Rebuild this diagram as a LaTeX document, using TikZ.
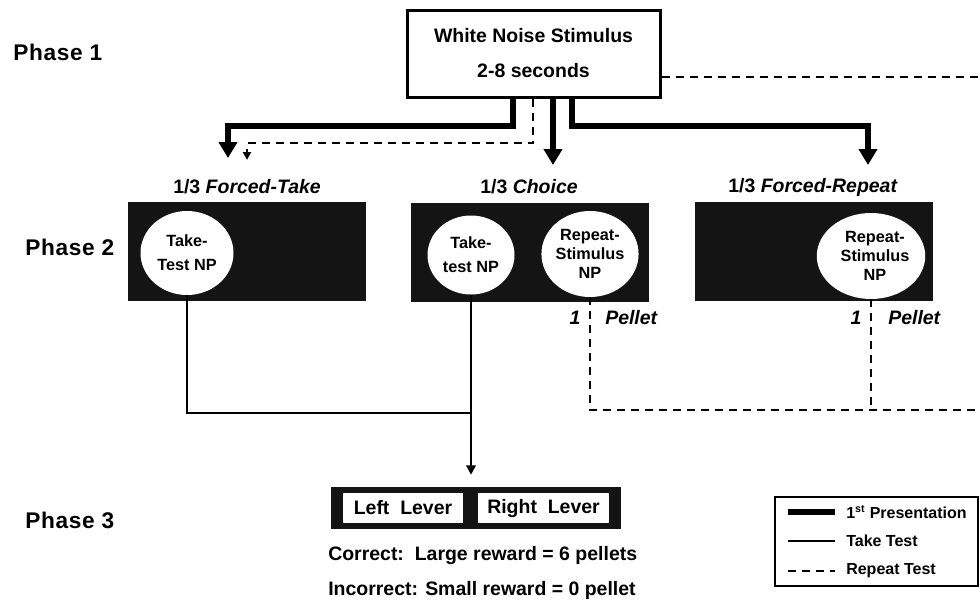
\documentclass[tikz,border=0pt]{standalone}
\usepackage{fontspec}
\setmainfont{Liberation Sans}
\usetikzlibrary{arrows.meta,shapes.geometric}
\tikzset{
  base/.style={font=\fontsize{14.6}{17.5}\selectfont\bfseries, inner sep=0pt},
  stimbox/.style={draw, line width=2.25pt, minimum width={253*0.75pt}, minimum height={87*0.75pt}, inner sep=0pt, align=center,
     font=\fontsize{14.6}{26.25}\selectfont\bfseries},
  blackbox/.style={fill=black!92, minimum width={238*0.75pt}, minimum height={99*0.75pt}, inner sep=0pt},
  np/.style={ellipse, fill=white, inner sep=0pt, align=center, minimum width={93*0.75pt}, minimum height={84*0.75pt}},
  nptwo/.style={font=\fontsize{12.2}{18}\selectfont\bfseries},
  npthree/.style={font=\fontsize{12.2}{14}\selectfont\bfseries},
  title/.style={base},
  phase/.style={anchor=west, inner sep=0pt, font=\fontsize{17}{20}\selectfont\bfseries\addfontfeature{LetterSpace=3}},
  thickarrow/.style={line width=4.5pt, miter limit=4, -{Triangle[width=13.5pt,length=12pt]}},
  dasharrow/.style={line width=1.5pt, dash pattern=on 6pt off 4.5pt, -{Triangle[width=6pt,length=6pt]}},
  repeatline/.style={line width=1.5pt, dash pattern=on 6pt off 4.5pt},
  taketest/.style={line width=1.9pt},
  legtext/.style={anchor=west, inner sep=0pt, font=\fontsize{12}{14}\selectfont\bfseries},
}
\begin{document}
\begin{tikzpicture}[x=0.75pt, y=-0.75pt]
\useasboundingbox (0,0) rectangle (980,604);

% phase labels
\node[phase] (ph1) at (13,52) {Phase 1};
\node[phase] (ph2) at (25,247) {Phase 2};
\node[phase] (ph3) at (25,520) {Phase 3};

% top stimulus box
\node[stimbox] (stim) at (533.5,53.5) {White Noise Stimulus\\2-8 seconds};

% coordinates for connectors
\coordinate (j1) at (513,126);
\coordinate (t1) at (228,158);
\coordinate (t2) at (553,165);
\coordinate (j3) at (572,126);
\coordinate (t3) at (868,165);
\coordinate (j4) at (533,143);
\coordinate (t4) at (247,160);
\coordinate (r0) at (982,77);
\coordinate (r1) at (982,410);

% thick first-presentation arrows
\draw[thickarrow] (stim.south -| j1) -- (j1) -| (t1);
\draw[thickarrow] (stim.south -| t2) -- (t2);
\draw[thickarrow] (stim.south -| j3) -- (j3) -| (t3);
% dashed repeat arrow
\draw[dasharrow] (stim.south -| j4) -- (j4) -| (t4);
% dashed line to right
\draw[repeatline] (stim.east |- r0) -- (r0);

% titles
\node[title] (ti1) at (247,187) {1/3 \textit{Forced-Take}};
\node[title] (ti2) at (529,187) {1/3 \textit{Choice}};
\node[title] (ti3) at (813,187) {1/3 \textit{Forced-Repeat}};

% phase 2 boxes
\node[blackbox] (b1) at (247,251.5) {};
\node[blackbox] (b2) at (529.5,252) {};
\node[blackbox] (b3) at (814,251) {};

% nose-poke ellipses
\node[np, nptwo] (e1) at (187,253) {Take-\\Test NP};
\node[np, nptwo, minimum width={87*0.75pt}, minimum height={79*0.75pt}] (e2) at (471,255) {Take-\\test NP};
\node[np, npthree, minimum width={95*0.75pt}, minimum height={86*0.75pt}] (e3) at (590,254) {Repeat-\\Stimulus\\NP};
\node[np, npthree, minimum width={95*0.75pt}, minimum height={86*0.75pt}] (e4) at (871,256) {\hspace*{6pt}Repeat-\\\hspace*{6pt}Stimulus\\\hspace*{6pt}NP};

% pellet labels
\node[base] (one1) at (575,318) {\textit{1}};
\node[base, anchor=west] (pel1) at (605,318) {\textit{Pellet}};
\node[base] (one2) at (856,318) {\textit{1}};
\node[base, anchor=west] (pel2) at (888,318) {\textit{Pellet}};

% repeat dashed lines
\draw[repeatline] (e3.south) -- (e3.south |- r1) -- (r1);
\draw[repeatline] (e4.south) -- (e4.south |- r1);

% lever box
\node[fill=black!92, minimum width={290*0.75pt}, minimum height={42*0.75pt}, inner sep=0pt] (lever) at (476,508) {};
\node[base, fill=white, minimum width={120*0.75pt}, minimum height={30*0.75pt}] (ll) at (403,508) {Left\ \ Lever};
\node[base, fill=white, minimum width={131*0.75pt}, minimum height={30*0.75pt}] (rl) at (543.5,508) {Right\ \ Lever};

% take test lines
\coordinate (m) at (471,413);
\draw[taketest] (e1.south) |- (m);
\draw[taketest, -{Triangle[width=7pt,length=7pt]}, shorten >=9pt] (e2.south) -- (m) -- (lever.north -| m);

% reward text
\node[base, anchor=west] (cor) at (328,555) {Correct:\ \ Large reward = 6 pellets};
\node[base, anchor=west] (inc) at (328,590) {Incorrect: Small reward = 0 pellet};

% legend
\node[draw, line width=1.1pt, minimum width={203*0.75pt}, minimum height={89*0.75pt}, inner sep=0pt] (leg) at (876.5,541.5) {};
\coordinate (l1a) at (788,512); \coordinate (l1b) at (835,512);
\coordinate (l2a) at (788,541); \coordinate (l2b) at (835,541);
\coordinate (l3a) at (788,571); \coordinate (l3b) at (835,571);
\draw[line width=3.8pt] (l1a) -- (l1b);
\draw[taketest] (l2a) -- (l2b);
\draw[repeatline] (l3a) -- (l3b);
\node[legtext] (lt1) at (846,512) {1\textsuperscript{st} Presentation};
\node[legtext] (lt2) at (846,541) {Take Test};
\node[legtext] (lt3) at (846,571) {Repeat Test};
\end{tikzpicture}
\end{document}
